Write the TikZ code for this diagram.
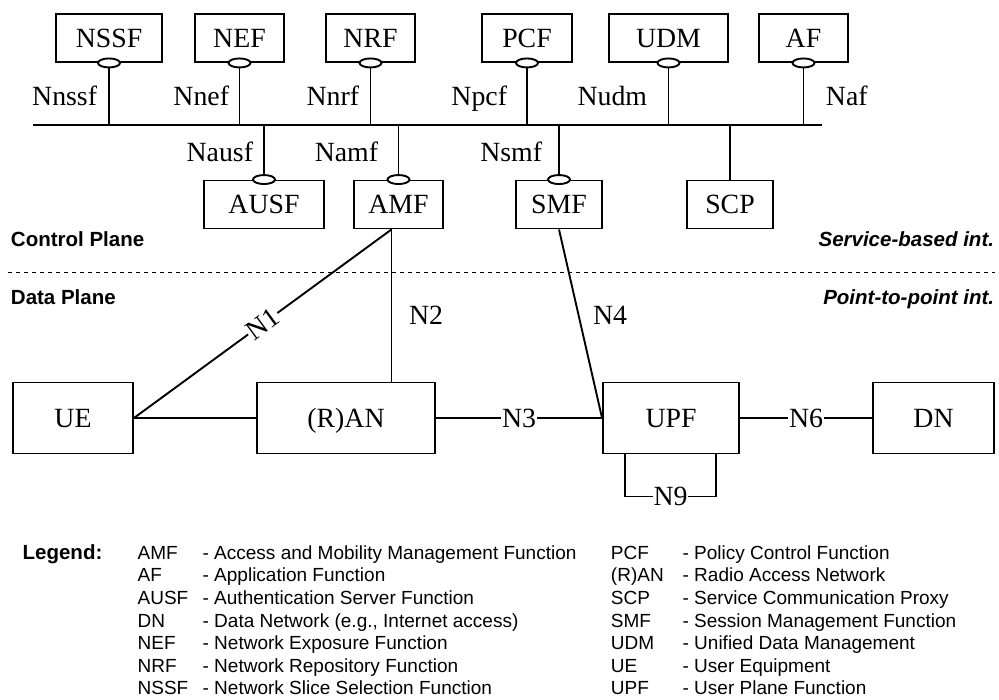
\documentclass[tikz,border=0pt]{standalone}
\usepackage{fontspec}
\setmainfont{Liberation Serif}
\newfontfamily\legendfont{Liberation Sans}
\usetikzlibrary{shapes.geometric,calc}

\tikzset{
  nf/.style={draw, rectangle, minimum width=#1, minimum height=48pt, inner sep=0pt,
             text height=18.3pt, text depth=0pt, font=\fontsize{27.8}{27.8}\selectfont},
  nf/.default=89pt,
  dpbox/.style={draw, rectangle, minimum width=#1, minimum height=71pt, inner sep=0pt,
             text height=18.3pt, text depth=-2pt, font=\fontsize{27.8}{27.8}\selectfont},
  sbi/.style={ellipse, draw, fill=white, minimum width=22pt, minimum height=9pt, inner sep=0pt},
  lab/.style={inner sep=0pt, font=\fontsize{27.8}{27.8}\selectfont},
  wlab/.style={lab, fill=white, inner sep=1pt},
  plane/.style={inner sep=0pt, font=\legendfont\bfseries\fontsize{20.5}{20.5}\selectfont},
  planeint/.style={inner sep=0pt, font=\legendfont\bfseries\itshape\fontsize{20.5}{20.5}\selectfont},
  leg/.style={inner sep=0pt, anchor=base west, font=\legendfont\fontsize{19}{19}\selectfont},
}

\begin{document}
\begin{tikzpicture}[x=1pt, y=-1pt, line width=1.9pt]
\useasboundingbox (0,0) rectangle (999,700);

% service-based bus
\coordinate (busL) at (33,125);
\coordinate (busR) at (822,125);
\draw (busL) -- (busR);

% network functions above the bus
\node[nf=106pt] (nssf) at (109,38)   {NSSF};
\node[nf]       (nef)  at (239.5,38) {NEF};
\node[nf]       (nrf)  at (370.5,38) {NRF};
\node[nf=90pt]  (pcf)  at (527,38)   {PCF};
\node[nf=119pt] (udm)  at (668.5,38) {UDM};
\node[nf]       (af)   at (803.5,38) {AF};

% network functions below the bus
\node[nf=120pt] (ausf) at (264,204.5)   {AUSF};
\node[nf]       (amf)  at (398.5,204.5) {AMF};
\node[nf=86pt]  (smf)  at (559,204.5)   {SMF};
\node[nf=86pt]  (scp)  at (730,204.5)   {SCP};

% drops to the bus
\foreach \n in {nssf,nef,nrf,pcf,udm,af}
  \draw (\n.south) -- (\n.south |- busL);
\foreach \n in {ausf,amf,smf,scp}
  \draw (\n.north) -- (\n.north |- busL);

% service interface markers
\foreach \n in {nssf,nef,nrf,pcf,udm,af}
  \node[sbi] (\n-sbi) at (\n.south) {};
\foreach \n in {ausf,amf,smf}
  \node[sbi] (\n-sbi) at (\n.north) {};

% service interface names
\node[lab, anchor=base east] (l-nssf) at (98,106)  {Nnssf};
\node[lab, anchor=base east] (l-nef)  at (230,106) {Nnef};
\node[lab, anchor=base east] (l-nrf)  at (360,106) {Nnrf};
\node[lab, anchor=base east] (l-pcf)  at (508,106) {Npcf};
\node[lab, anchor=base east] (l-udm)  at (648,106) {Nudm};
\node[lab, anchor=base west] (l-af)   at (825,106) {Naf};
\node[lab, anchor=base east] (l-ausf) at (254,162) {Nausf};
\node[lab, anchor=base east] (l-amf)  at (379,162) {Namf};
\node[lab, anchor=base east] (l-smf)  at (543,162) {Nsmf};

% plane separation
\node[plane, anchor=base west] (cp) at (10,246.5) {Control Plane};
\node[plane, anchor=base west] (dp) at (10,305) {Data Plane};
\node[planeint, anchor=base east] (sbint) at (995,246.5) {Service-based int.};
\node[planeint, anchor=base east] (ppint) at (995,305) {Point-to-point int.};
\coordinate (sepL) at (8,272.7);
\coordinate (sepR) at (995,272.7);
\draw[line width=0.8pt, dash pattern=on 4pt off 4pt] (sepL) -- (sepR);

% user plane
\node[dpbox=120pt] (ue)  at (73,418)    {UE};
\node[dpbox=178pt] (ran) at (346,418)   {(R)AN};
\node[dpbox=136pt] (upf) at (671,418)   {UPF};
\node[dpbox=121pt] (dn)  at (933.5,418) {DN};

\coordinate (amfN) at ([xshift=-7pt]amf.south);
\draw (ue.east) -- node[wlab, sloped, pos=0.5] (n1) {N1} (amfN);
\draw (amfN) -- (amfN |- ran.north);
\node[lab] (n2) at (426,315) {N2};
\draw (ue.east) -- (ran.west);
\draw (ran.east) -- node[wlab] (n3) {N3} (upf.west);
\draw (smf.south) -- (upf.west);
\node[lab] (n4) at (610,315) {N4};
\draw (upf.east) -- node[wlab] (n6) {N6} (dn.west);
\coordinate (n9a) at ([xshift=-46pt]upf.south);
\coordinate (n9b) at ([xshift=45pt]upf.south);
\draw (n9a) -- ++(0,42) -- node[wlab] (n9) {N9} ($(n9b)+(0,42)$) -- (n9b);

% legend
\node[leg, font=\legendfont\bfseries\fontsize{20.5}{20.5}\selectfont] (legend) at (21.7,559.3) {Legend:};
\foreach \ab/\de [count=\i from 0] in {
    AMF/{Access and Mobility Management Function},
    AF/{Application Function},
    AUSF/{Authentication Server Function},
    DN/{Data Network (e.g., Internet access)},
    NEF/{Network Exposure Function},
    NRF/{Network Repository Function},
    NSSF/{Network Slice Selection Function}} {
  \node[leg] (lga-\i) at (136.7,559.3+22.6*\i) {\ab};
  \node[leg] (lgd-\i) at (201.7,559.3+22.6*\i) {- \de};
}
\foreach \ab/\de [count=\i from 0] in {
    PCF/{Policy Control Function},
    (R)AN/{Radio Access Network},
    SCP/{Service Communication Proxy},
    SMF/{Session Management Function},
    UDM/{Unified Data Management},
    UE/{User Equipment},
    UPF/{User Plane Function}} {
  \node[leg] (lgb-\i) at (610,559.3+22.6*\i) {\ab};
  \node[leg] (lge-\i) at (681.7,559.3+22.6*\i) {- \de};
}
\end{tikzpicture}
\end{document}
